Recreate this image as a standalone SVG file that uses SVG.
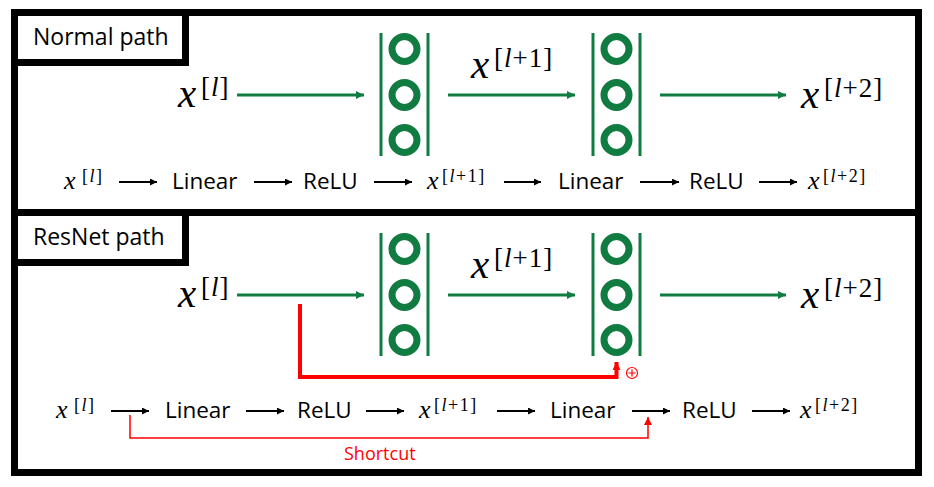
<svg xmlns="http://www.w3.org/2000/svg" width="934" height="487" viewBox="0 0 934 487">
<defs>
<style>
.frame{fill:none;stroke:#000;stroke-width:7}
.lbl{fill:#fff;stroke:#000;stroke-width:7}
.ttl{font-family:"Open Sans","Liberation Sans",sans-serif;font-size:23px;fill:#000}
.op{font-family:"Open Sans","Liberation Sans",sans-serif;font-size:22.5px;fill:#000}
.mx{font-family:"Liberation Serif",serif;font-style:italic;font-size:41px;fill:#000}
.ms{font-family:"Liberation Serif",serif;font-size:27px;letter-spacing:1px;fill:#000}
.sx{font-family:"Liberation Serif",serif;font-style:italic;font-size:26px;fill:#000}
.ss{font-family:"Liberation Serif",serif;font-size:18px;letter-spacing:1.5px;fill:#000}
.it{font-style:italic}
.bar{stroke:#107c41;stroke-width:3}
.ring{fill:none;stroke:#107c41;stroke-width:7}
.ga{stroke:#107c41;stroke-width:3;fill:none;marker-end:url(#gh)}
.ka{stroke:#000;stroke-width:2;fill:none;marker-end:url(#kh)}
.rthick{stroke:#f00;stroke-width:4;fill:none;marker-end:url(#rh)}
.rthin{stroke:#f00;stroke-width:1.5;fill:none;marker-end:url(#rh2)}
.sc{font-family:"Open Sans","Liberation Sans",sans-serif;font-size:18px;fill:#f00}
</style>
<marker id="gh" viewBox="0 0 10 10" refX="10" refY="5" markerWidth="10" markerHeight="8" markerUnits="userSpaceOnUse" orient="auto"><path d="M0,0 L10,5 L0,10 Z" fill="#107c41"/></marker>
<marker id="kh" viewBox="0 0 10 10" refX="10" refY="5" markerWidth="9" markerHeight="7" markerUnits="userSpaceOnUse" orient="auto"><path d="M0,0 L10,5 L0,10 Z" fill="#000"/></marker>
<marker id="rh" viewBox="0 0 10 10" refX="10" refY="5" markerWidth="9" markerHeight="8" markerUnits="userSpaceOnUse" orient="auto"><path d="M0,0 L10,5 L0,10 Z" fill="#f00"/></marker>
<marker id="rh2" viewBox="0 0 10 10" refX="10" refY="5" markerWidth="9" markerHeight="8" markerUnits="userSpaceOnUse" orient="auto"><path d="M0,0 L10,5 L0,10 Z" fill="#f00"/></marker>
<g id="layer">
<line class="bar" x1="0" y1="33" x2="0" y2="156"/>
<line class="bar" x1="47" y1="33" x2="47" y2="156"/>
<circle class="ring" cx="23.5" cy="49" r="12.5"/>
<circle class="ring" cx="23.5" cy="95" r="12.5"/>
<circle class="ring" cx="23.5" cy="140" r="12.5"/>
</g>
</defs>
<rect width="934" height="487" fill="#fff"/>

<g id="panel-normal">
<rect class="frame" x="14.5" y="12.5" width="904" height="200"/>
<rect class="lbl" x="14.5" y="12.5" width="171" height="50"/>
<text class="ttl" x="33" y="45">Normal path</text>
</g>
<g id="panel-resnet">
<rect class="frame" x="14.5" y="212.5" width="904" height="260"/>
<rect class="lbl" x="14.5" y="212.5" width="171" height="50"/>
<text class="ttl" x="33" y="245">ResNet path</text>
</g>

<g id="n-layer1"><use href="#layer" x="381" y="0"/></g>
<g id="n-layer2"><use href="#layer" x="593" y="0"/></g>
<g id="r-layer1"><use href="#layer" x="381" y="200"/></g>
<g id="r-layer2"><use href="#layer" x="593" y="200"/></g>

<g id="n-xl"><text><tspan class="mx" x="178" y="107">x</tspan><tspan class="ms" x="201" y="96">[<tspan class="it">l</tspan>]</tspan></text></g>
<g id="n-xl1"><text><tspan class="mx" x="471" y="78">x</tspan><tspan class="ms" x="494" y="67">[<tspan class="it">l</tspan>+1]</tspan></text></g>
<g id="n-xl2"><text><tspan class="mx" x="801" y="108">x</tspan><tspan class="ms" x="824" y="97">[<tspan class="it">l</tspan>+2]</tspan></text></g>
<g id="r-xl"><text><tspan class="mx" x="178" y="307">x</tspan><tspan class="ms" x="201" y="296">[<tspan class="it">l</tspan>]</tspan></text></g>
<g id="r-xl1"><text><tspan class="mx" x="471" y="278">x</tspan><tspan class="ms" x="494" y="267">[<tspan class="it">l</tspan>+1]</tspan></text></g>
<g id="r-xl2"><text><tspan class="mx" x="801" y="308">x</tspan><tspan class="ms" x="824" y="297">[<tspan class="it">l</tspan>+2]</tspan></text></g>

<g id="n-row">
<g id="n-s1"><text><tspan class="sx" x="64" y="189">x</tspan><tspan class="ss" x="82" y="182">[<tspan class="it">l</tspan>]</tspan></text></g>
<g id="n-s2"><text class="op" x="172" y="189">Linear</text></g>
<g id="n-s3"><text class="op" x="303" y="189">ReLU</text></g>
<g id="n-s4"><text><tspan class="sx" x="427" y="189">x</tspan><tspan class="ss" x="442" y="182">[<tspan class="it">l</tspan>+1]</tspan></text></g>
<g id="n-s5"><text class="op" x="558" y="189">Linear</text></g>
<g id="n-s6"><text class="op" x="689" y="189">ReLU</text></g>
<g id="n-s7"><text><tspan class="sx" x="808" y="189">x</tspan><tspan class="ss" x="823" y="182">[<tspan class="it">l</tspan>+2]</tspan></text></g>
</g>
<g id="r-row">
<g id="r-s1"><text><tspan class="sx" x="56" y="418">x</tspan><tspan class="ss" x="74" y="411">[<tspan class="it">l</tspan>]</tspan></text></g>
<g id="r-s2"><text class="op" x="165" y="418">Linear</text></g>
<g id="r-s3"><text class="op" x="297" y="418">ReLU</text></g>
<g id="r-s4"><text><tspan class="sx" x="419" y="418">x</tspan><tspan class="ss" x="434" y="411">[<tspan class="it">l</tspan>+1]</tspan></text></g>
<g id="r-s5"><text class="op" x="550" y="418">Linear</text></g>
<g id="r-s6"><text class="op" x="682" y="418">ReLU</text></g>
<g id="r-s7"><text><tspan class="sx" x="800" y="418">x</tspan><tspan class="ss" x="815" y="411">[<tspan class="it">l</tspan>+2]</tspan></text></g>
</g>

<g id="connectors">
<line class="ga" x1="237" y1="95" x2="364" y2="95"/>
<line class="ga" x1="448" y1="95" x2="575" y2="95"/>
<line class="ga" x1="660" y1="95" x2="786" y2="95"/>
<line class="ga" x1="237" y1="295" x2="364" y2="295"/>
<line class="ga" x1="448" y1="295" x2="575" y2="295"/>
<line class="ga" x1="660" y1="295" x2="786" y2="295"/>

<line class="ka" x1="119" y1="182" x2="157" y2="182"/>
<line class="ka" x1="254" y1="182" x2="292" y2="182"/>
<line class="ka" x1="374" y1="182" x2="412" y2="182"/>
<line class="ka" x1="504" y1="182" x2="541" y2="182"/>
<line class="ka" x1="640" y1="182" x2="679" y2="182"/>
<line class="ka" x1="759" y1="182" x2="797" y2="182"/>

<line class="ka" x1="111" y1="411" x2="149" y2="411"/>
<line class="ka" x1="246" y1="411" x2="284" y2="411"/>
<line class="ka" x1="366" y1="411" x2="404" y2="411"/>
<line class="ka" x1="497" y1="411" x2="535" y2="411"/>
<line class="ka" x1="632" y1="411" x2="670" y2="411"/>
<line class="ka" x1="752" y1="411" x2="790" y2="411"/>

<path class="rthick" d="M300,304 V377 H616.5 V362"/>
<path class="rthin" d="M130,415 V438 H648 V417"/>
</g>

<g id="plus">
<circle cx="632" cy="373" r="5.5" fill="none" stroke="#f00" stroke-width="1.2"/>
<path d="M628.5,373 H635.5 M632,369.5 V376.5" stroke="#f00" stroke-width="1.2"/>
</g>
<g id="shortcut-label"><text class="sc" x="344" y="460">Shortcut</text></g>
</svg>
